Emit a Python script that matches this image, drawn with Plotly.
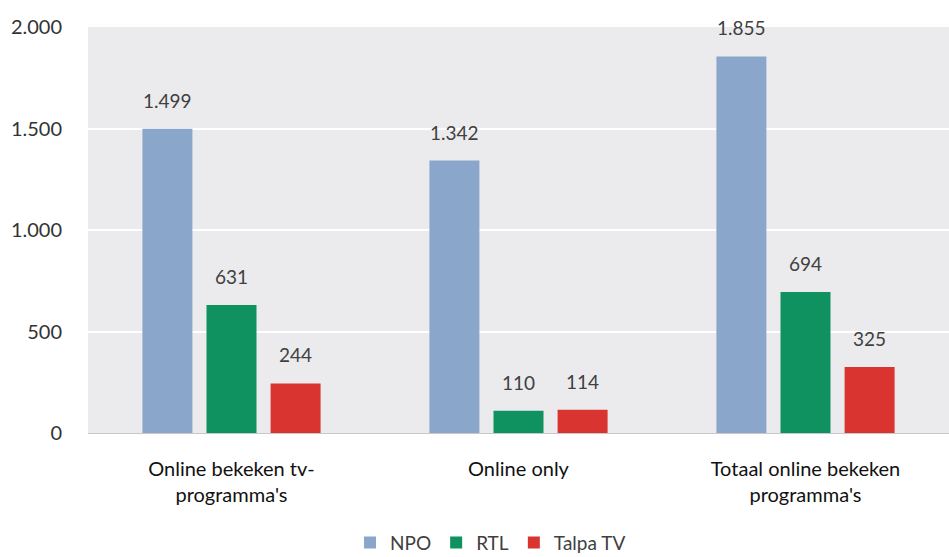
import plotly.graph_objects as go

categories = ["Online bekeken tv-<br>programma's", "Online only", "Totaal online bekeken<br>programma's"]
npo = [1499, 1342, 1855]
rtl = [631, 110, 694]
talpa = [244, 114, 325]
series_names = ["NPO", "RTL", "Talpa TV"]
colors = ["#8aa6cb", "#0f9160", "#d9342f"]
y_ticks = [0, 500, 1000, 1500, 2000]

fig = go.Figure()
series = [npo, rtl, talpa]
for name, vals, col in zip(series_names, series, colors):
    fig.add_trace(go.Bar(
        x=categories, y=vals, name=name, marker_color=col, marker_line_width=0,
    ))

# value labels above the bars, positioned through the data axes
slot_px = 64
for i, vals in enumerate(series):
    for cat, v in zip(categories, vals):
        fig.add_annotation(
            x=cat, y=v, xref="x", yref="y", text=f"{v:,}".replace(",", "."),
            showarrow=False, yanchor="bottom", xshift=(i - 1) * slot_px, yshift=15,
            font=dict(color="#404040", size=19),
        )

fig.update_layout(
    width=949, height=557,
    margin=dict(l=88, r=0, t=27, b=124, autoexpand=False),
    barmode="group", bargap=0.33, bargroupgap=0.22,
    plot_bgcolor="#ebebee", paper_bgcolor="white",
    separators=",.",
    font=dict(family="Lato, 'Noto Sans', sans-serif", size=19, color="#222222"),
    showlegend=True,
    legend=dict(orientation="h", x=0.4675, xanchor="center", y=-0.27, yanchor="middle",
                font=dict(size=19, color="#404040"), itemwidth=30, tracegroupgap=0),
    xaxis=dict(showline=True, linecolor="#c8c8c8", linewidth=1, ticks="", automargin=False,
               ticklabelstandoff=18, tickfont=dict(size=20, color="#111111")),
    yaxis=dict(range=[0, 2000], tickvals=y_ticks, tickformat=",d", gridcolor="white", gridwidth=1.5,
               zeroline=False, ticks="", ticklabelstandoff=25, automargin=False,
               tickfont=dict(size=20, color="#333333")),
)

fig.write_html("out.html", config={"displayModeBar": False},
               post_script="document.body.style.margin='0';")
